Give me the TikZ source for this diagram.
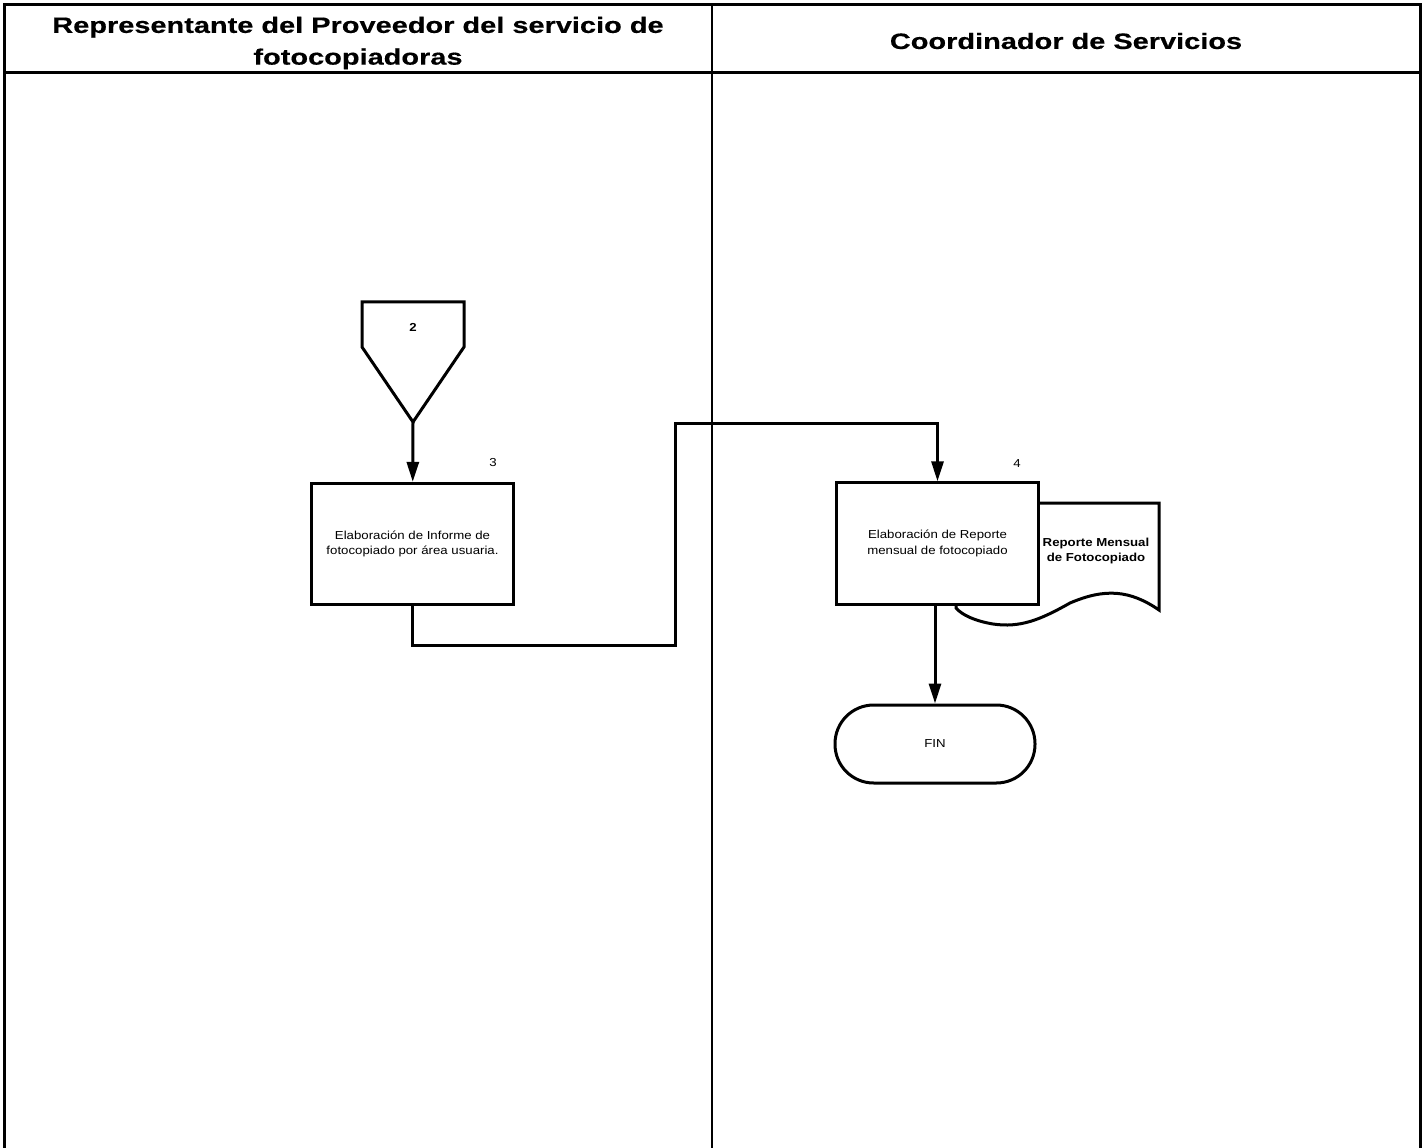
\documentclass[tikz,border=0pt]{standalone}
\usepackage{fontspec}
\setmainfont{Liberation Sans}[FakeStretch=1.14]
\newfontfamily\headfont{Liberation Sans}[FakeStretch=1.3,FakeBold=0.4]
\usetikzlibrary{arrows.meta}
\definecolor{lineblack}{HTML}{000000}

\begin{document}
\begin{tikzpicture}[x=0.75pt, y=-0.75pt,
  head/.style={align=center, font=\headfont\bfseries\fontsize{16.7}{23.8}\selectfont},
  proc/.style={draw=lineblack, line width=2.25pt, fill=white, align=center, minimum width=151pt, minimum height=91pt, inner sep=2pt, font=\fontsize{8.7}{11.8}\selectfont},
  term/.style={draw=lineblack, line width=2.25pt, fill=white, rounded corners=29pt, minimum width=150pt, minimum height=58.5pt, font=\fontsize{8.7}{11.8}\selectfont},
  num/.style={font=\fontsize{8.7}{11.8}\selectfont},
  shp/.style={draw=lineblack, line width=2.25pt, line join=miter},
  arr/.style={-{Triangle[length=15pt,width=9pt]}, line width=2.25pt, lineblack}]

\useasboundingbox (0,0) rectangle (1424,1148);

% swimlane frame
\draw[line width=2.25pt] (4,1148) -- (4,5) -- (1420,5) -- (1420,1148);
\draw[line width=2.25pt] (4,73) -- (1420,73);
\draw[line width=1.5pt] (712,5) -- (712,1148);

\node[head] (lane1) at (358,43) {Representante del Proveedor del servicio de\\fotocopiadoras};
\node[head] (lane2) at (1066,41) {Coordinador de Servicios};

% off-page connector
\draw[shp] (362,302) -- (464,302) -- (464,347) -- (413,422) -- (362,347) -- cycle;
\node[num, font=\bfseries\fontsize{8.7}{11.8}\selectfont] (conn) at (413,327) {2};
\coordinate (conntip) at (413,422);

\node[proc] at (412.5,544) (inf)
  {Elaboración de Informe de\\fotocopiado por área usuaria.};
\node[num] (n3) at (493,463) {3};

% document
\draw[shp, fill=white] (956,608) -- (956,503) -- (1159,503) -- (1159,610)
  .. controls (1130,590) and (1105,588) .. (1070,603)
  .. controls (1040,620) and (1020,628) .. (993,624)
  .. controls (975,621) and (962,615) .. cycle;
\node[align=center, font=\bfseries\fontsize{8.7}{11.8}\selectfont] (rep) at (1096,551)
  {Reporte Mensual\\de Fotocopiado};

\node[proc] at (937.5,543.5) (rpt)
  {Elaboración de Reporte\\mensual de fotocopiado};
\node[num] (n4) at (1017,464) {4};

\node[term] at (935,744) (fin) {FIN};

\coordinate (b1) at (675,645);
\coordinate (b2) at (675,423);

\draw[arr] (conntip) -- (inf);
\draw[arr] (inf.south) |- (b1) -- (b2) -| (rpt.north);
\draw[arr] (rpt.south -| fin.north) -- (fin.north);
\end{tikzpicture}
\end{document}
